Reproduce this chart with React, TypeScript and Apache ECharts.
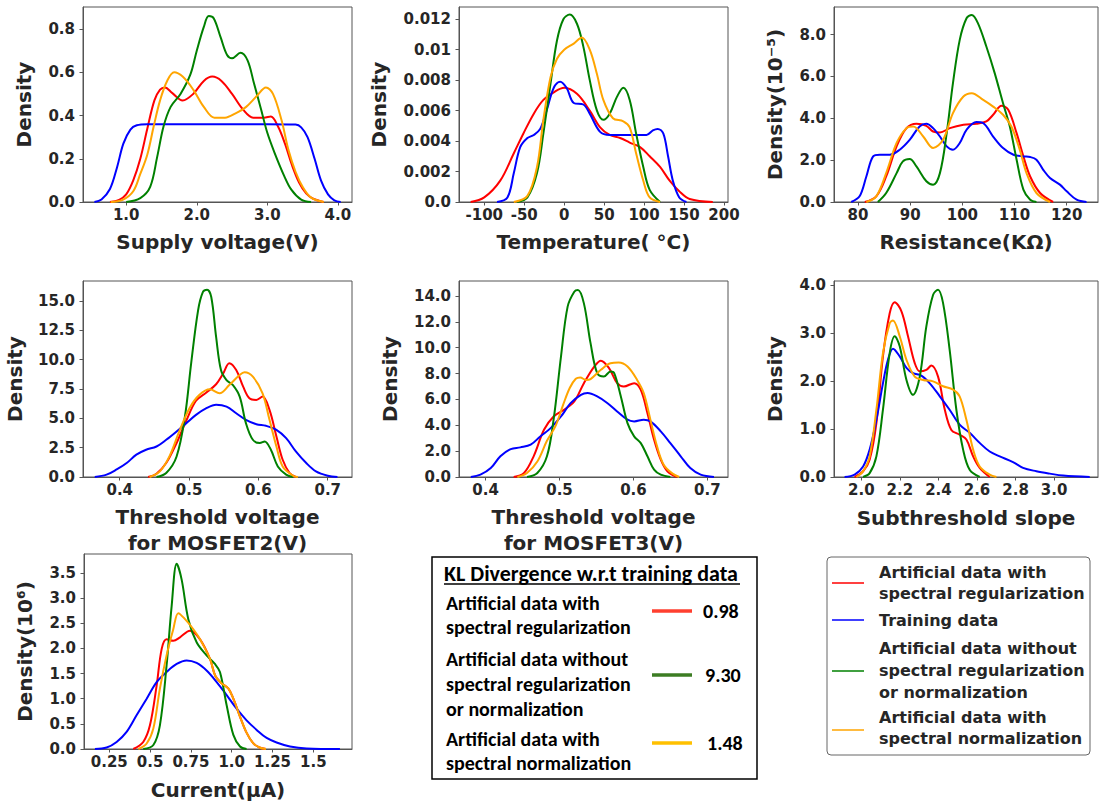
import React, { useEffect, useRef } from "react";
import * as echarts from "echarts";

// ---------- DATA ----------
const seriesNames = [
  "Artificial data with spectral regularization",
  "Training data",
  "Artificial data without spectral regularization or normalization",
  "Artificial data with spectral normalization",
];

// Panel 1: Supply voltage
const supplyRed = [[0.77,0],[0.9,0.01],[1.0,0.035],[1.1,0.1],[1.2,0.2],[1.3,0.34],[1.4,0.47],[1.48,0.52],[1.55,0.53],[1.65,0.505],[1.8,0.47],[1.95,0.5],[2.1,0.56],[2.22,0.58],[2.35,0.56],[2.5,0.5],[2.65,0.43],[2.8,0.39],[2.95,0.39],[3.05,0.395],[3.15,0.35],[3.25,0.27],[3.35,0.17],[3.45,0.09],[3.55,0.04],[3.65,0.015],[3.8,0]];
const supplyBlue = [[0.55,0],[0.65,0.012],[0.77,0.06],[0.87,0.16],[0.96,0.27],[1.06,0.335],[1.15,0.355],[1.3,0.36],[2.0,0.36],[3.0,0.36],[3.4,0.358],[3.48,0.345],[3.57,0.3],[3.67,0.2],[3.76,0.1],[3.86,0.035],[3.95,0.008],[4.04,0]];
const supplyGreen = [[1.0,0],[1.2,0.018],[1.34,0.07],[1.44,0.21],[1.53,0.35],[1.63,0.44],[1.77,0.5],[1.91,0.59],[2.0,0.7],[2.1,0.81],[2.17,0.86],[2.24,0.85],[2.34,0.76],[2.43,0.68],[2.5,0.665],[2.62,0.69],[2.72,0.655],[2.81,0.55],[2.91,0.43],[3.0,0.32],[3.1,0.23],[3.24,0.12],[3.34,0.057],[3.48,0.011],[3.62,0]];
const supplyOrange = [[0.78,0],[0.95,0.01],[1.1,0.05],[1.2,0.13],[1.3,0.22],[1.39,0.35],[1.48,0.47],[1.58,0.56],[1.68,0.6],[1.8,0.58],[1.95,0.52],[2.1,0.44],[2.25,0.39],[2.4,0.39],[2.55,0.41],[2.7,0.44],[2.85,0.49],[2.98,0.53],[3.08,0.5],[3.2,0.38],[3.3,0.24],[3.4,0.14],[3.5,0.07],[3.62,0.02],[3.8,0]];
const supplyXTicks = [1, 2, 3, 4];
const supplyXLabels = ["1.0", "2.0", "3.0", "4.0"];
const supplyYTicks = [0, 0.2, 0.4, 0.6, 0.8];
const supplyYLabels = ["0.0", "0.2", "0.4", "0.6", "0.8"];

// Panel 2: Temperature
const tempRed = [[-117,0],[-100,0.0003],[-80,0.0014],[-63,0.0032],[-51,0.0045],[-38,0.0058],[-26,0.0067],[-13,0.0072],[0,0.0075],[16,0.0071],[32,0.006],[45,0.0049],[57,0.0044],[70,0.0042],[82,0.0039],[95,0.0036],[107,0.003],[120,0.0023],[132,0.0014],[144,0.0007],[157,0.0002],[186,0]];
const tempBlue = [[-84,0],[-71,0.0003],[-63,0.0019],[-55,0.0036],[-46,0.0042],[-38,0.0044],[-30,0.0048],[-22,0.006],[-13,0.0075],[-5,0.0079],[3,0.0075],[12,0.0065],[24,0.0064],[32,0.0058],[45,0.0046],[57,0.0044],[78,0.0044],[103,0.0044],[111,0.0047],[117,0.0048],[124,0.0045],[130,0.003],[136,0.0014],[144,0.0003],[153,0]];
const tempGreen = [[-59,0],[-46,0.0003],[-34,0.0019],[-26,0.0045],[-17,0.0078],[-9,0.0106],[-1,0.012],[7,0.0123],[16,0.0117],[24,0.0102],[32,0.008],[41,0.006],[49,0.0054],[57,0.0058],[66,0.0069],[74,0.0075],[82,0.0067],[90,0.0045],[99,0.0023],[107,0.0008],[120,0]];
const tempOrange = [[-63,0],[-46,0.0004],[-34,0.0023],[-26,0.0054],[-17,0.0082],[-9,0.0094],[0,0.01],[12,0.0104],[22,0.0108],[32,0.01],[41,0.0084],[49,0.0067],[61,0.0055],[74,0.0053],[82,0.0049],[90,0.0032],[99,0.0014],[107,0.0003],[120,0]];
const tempXTicks = [-100, -50, 0, 50, 100, 150, 200];
const tempXLabels = ["-100", "-50", "0", "50", "100", "150", "200"];
const tempYTicks = [0, 0.002, 0.004, 0.006, 0.008, 0.01, 0.012];
const tempYLabels = ["0.0", "0.002", "0.004", "0.006", "0.008", "0.01", "0.012"];

// Panel 3: Resistance
const resRed = [[81.3,0],[83.5,0.27],[85.4,1.22],[87.4,2.66],[89.3,3.53],[91.2,3.74],[93.1,3.64],[94.4,3.37],[95.7,3.32],[97.6,3.53],[100.2,3.69],[102.7,3.74],[104.6,3.85],[105.9,4.17],[107.5,4.6],[108.8,4.41],[110.4,3.29],[111.7,2.18],[113,1.22],[114.9,0.43],[117.4,0]];
const resBlue = [[78.7,0],[80.3,0.27],[81.6,1.22],[82.9,2.18],[84.2,2.26],[86.1,2.26],[88,2.5],[89.9,2.97],[91.8,3.61],[93.1,3.74],[94.4,3.53],[95.7,3.13],[97,2.66],[98.2,2.5],[99.5,2.82],[100.8,3.45],[102.7,3.82],[104,3.77],[105.9,3.13],[107.8,2.58],[109.8,2.26],[111.7,2.18],[113,2.15],[114.2,2.02],[115.5,1.54],[116.8,1.15],[118.7,0.83],[120,0.51],[121.9,0.11],[123.8,0]];
const resGreen = [[83.8,0],[85.4,0.43],[87.4,1.38],[88.6,1.94],[89.9,2.05],[91.2,1.7],[93.1,0.99],[94.4,0.83],[95.7,1.38],[97,3.29],[98.2,5.68],[99.5,7.75],[100.8,8.78],[101.8,8.94],[103,8.54],[104.6,7.43],[106.2,6.16],[107.8,4.72],[109.1,3.61],[110.4,2.02],[111.7,0.59],[113,0.11],[114.2,0]];
const resOrange = [[81.6,0],[83.5,0.27],[85.4,1.38],[87.4,2.82],[89.3,3.53],[90.6,3.61],[92.5,3.13],[94.4,2.58],[96.3,2.97],[98.2,4.25],[100.2,5.04],[101.8,5.2],[104,4.88],[105.9,4.56],[107.8,4.17],[109.4,3.61],[111,2.5],[112.3,1.38],[114.2,0.43],[116.8,0]];
const resXTicks = [80, 90, 100, 110, 120];
const resXLabels = ["80", "90", "100", "110", "120"];
const resYTicks = [0, 2, 4, 6, 8];
const resYLabels = ["0.0", "2.0", "4.0", "6.0", "8.0"];

// Panel 4: Threshold voltage MOSFET2
const vt2Red = [[0.441,0],[0.453,0.28],[0.467,1.19],[0.482,2.9],[0.496,4.8],[0.51,6.5],[0.525,7.2],[0.539,7.9],[0.549,8.8],[0.558,9.7],[0.568,9.11],[0.578,7.7],[0.587,6.71],[0.597,6.57],[0.606,6.85],[0.616,5.72],[0.626,3.45],[0.635,1.47],[0.645,0.34],[0.654,0]];
const vt2Blue = [[0.364,0],[0.381,0.2],[0.395,0.62],[0.41,1.19],[0.424,1.9],[0.438,2.32],[0.453,2.6],[0.467,3.17],[0.482,3.88],[0.496,4.59],[0.51,5.29],[0.525,5.86],[0.539,6.15],[0.554,6.0],[0.568,5.43],[0.582,4.87],[0.597,4.5],[0.611,4.36],[0.626,4.02],[0.64,3.31],[0.654,2.18],[0.669,1.19],[0.683,0.48],[0.7,0.11],[0.714,0]];
const vt2Green = [[0.453,0],[0.467,0.34],[0.482,1.75],[0.494,5.15],[0.503,9.68],[0.513,14.2],[0.52,15.77],[0.526,15.96],[0.532,15.34],[0.539,11.94],[0.546,9.11],[0.554,8.26],[0.563,7.84],[0.573,6.85],[0.582,4.59],[0.592,3.17],[0.602,2.89],[0.609,3.03],[0.618,2.32],[0.628,0.9],[0.64,0.2],[0.65,0]];
const vt2Orange = [[0.443,0],[0.458,0.48],[0.472,1.8],[0.486,3.9],[0.501,5.9],[0.515,7.0],[0.53,7.47],[0.544,7.13],[0.558,7.84],[0.573,8.69],[0.58,8.92],[0.592,8.55],[0.606,7.13],[0.616,4.87],[0.626,2.6],[0.635,0.9],[0.65,0.11],[0.657,0]];
const vt2XTicks = [0.4, 0.5, 0.6, 0.7];
const vt2XLabels = ["0.4", "0.5", "0.6", "0.7"];
const vt2YTicks = [0, 2.5, 5, 7.5, 10, 12.5, 15];
const vt2YLabels = ["0.0", "2.5", "5.0", "7.5", "10.0", "12.5", "15.0"];

// Panel 5: Threshold voltage MOSFET3
const vt3Red = [[0.438,0],[0.452,0.31],[0.465,1.6],[0.479,3.65],[0.492,4.68],[0.506,5.2],[0.52,5.84],[0.533,7.26],[0.547,8.54],[0.556,9.0],[0.567,8.42],[0.578,7.26],[0.587,7.0],[0.601,7.26],[0.61,6.74],[0.619,4.94],[0.628,2.88],[0.637,1.34],[0.646,0.44],[0.659,0]];
const vt3Blue = [[0.38,0],[0.393,0.18],[0.407,0.69],[0.42,1.6],[0.434,2.16],[0.447,2.29],[0.461,2.5],[0.474,3.14],[0.488,3.78],[0.502,4.68],[0.515,5.71],[0.529,6.36],[0.538,6.49],[0.551,6.23],[0.565,5.71],[0.578,5.07],[0.592,4.43],[0.601,4.3],[0.614,4.43],[0.623,4.3],[0.637,3.53],[0.65,2.62],[0.664,1.6],[0.677,0.69],[0.691,0.18],[0.709,0]];
const vt3Green = [[0.456,0],[0.47,0.31],[0.483,1.6],[0.492,4.43],[0.502,9.32],[0.511,13.18],[0.52,14.33],[0.525,14.46],[0.533,13.43],[0.542,10.35],[0.551,8.03],[0.56,7.77],[0.569,8.16],[0.574,8.03],[0.583,6.23],[0.592,4.17],[0.601,3.14],[0.61,2.62],[0.619,1.6],[0.628,0.57],[0.637,0.18],[0.65,0]];
const vt3Orange = [[0.443,0],[0.456,0.31],[0.47,1.2],[0.483,2.8],[0.495,4.0],[0.505,5.6],[0.514,6.9],[0.522,7.6],[0.528,7.7],[0.536,7.5],[0.542,7.57],[0.556,8.29],[0.569,8.8],[0.58,8.85],[0.592,8.54],[0.605,7.51],[0.614,6.49],[0.623,4.43],[0.632,2.37],[0.641,0.95],[0.653,0.26],[0.662,0]];
const vt3XTicks = [0.4, 0.5, 0.6, 0.7];
const vt3XLabels = ["0.4", "0.5", "0.6", "0.7"];
const vt3YTicks = [0, 2, 4, 6, 8, 10, 12, 14];
const vt3YLabels = ["0.0", "2.0", "4.0", "6.0", "8.0", "10.0", "12.0", "14.0"];

// Panel 6: Subthreshold slope
const ssRed = [[1.965,0],[2.009,0.12],[2.043,0.36],[2.078,1.12],[2.112,2.51],[2.147,3.41],[2.173,3.64],[2.208,3.45],[2.242,2.93],[2.277,2.37],[2.303,2.2],[2.337,2.23],[2.363,2.32],[2.398,2.09],[2.433,1.4],[2.467,0.98],[2.51,0.88],[2.545,0.78],[2.58,0.43],[2.614,0.19],[2.666,0]];
const ssBlue = [[1.913,0],[1.965,0.05],[2.009,0.22],[2.043,0.57],[2.078,1.19],[2.112,1.95],[2.138,2.44],[2.164,2.67],[2.199,2.51],[2.234,2.27],[2.268,2.16],[2.311,2.11],[2.355,1.95],[2.407,1.68],[2.458,1.4],[2.51,1.09],[2.562,0.92],[2.614,0.71],[2.666,0.53],[2.718,0.43],[2.787,0.31],[2.839,0.19],[2.908,0.12],[2.978,0.07],[3.047,0.03],[3.185,0]];
const ssGreen = [[2.009,0],[2.043,0.08],[2.078,0.43],[2.112,1.4],[2.147,2.58],[2.173,2.93],[2.199,2.72],[2.234,2.02],[2.268,1.71],[2.303,2.09],[2.337,3.13],[2.372,3.79],[2.398,3.9],[2.424,3.62],[2.458,2.65],[2.493,1.4],[2.528,0.57],[2.562,0.15],[2.614,0]];
const ssOrange = [[1.974,0],[2.009,0.12],[2.043,0.43],[2.078,1.4],[2.112,2.58],[2.147,3.2],[2.164,3.26],[2.199,2.93],[2.234,2.44],[2.277,2.09],[2.32,2.02],[2.372,1.99],[2.424,1.89],[2.476,1.82],[2.51,1.68],[2.545,1.19],[2.58,0.57],[2.614,0.22],[2.666,0.05],[2.701,0]];
const ssXTicks = [2.0, 2.2, 2.4, 2.6, 2.8, 3.0];
const ssXLabels = ["2.0", "2.2", "2.4", "2.6", "2.8", "3.0"];
const ssYTicks = [0, 1, 2, 3, 4];
const ssYLabels = ["0.0", "1.0", "2.0", "3.0", "4.0"];

// Panel 7: Current
const curRed = [[0.397,0],[0.458,0.14],[0.499,0.47],[0.54,1.26],[0.571,1.99],[0.601,2.18],[0.642,2.15],[0.683,2.22],[0.744,2.35],[0.806,2.18],[0.867,1.79],[0.9,1.45],[0.94,1.3],[0.98,1.2],[1.01,1.0],[1.05,0.65],[1.09,0.33],[1.13,0.12],[1.17,0.03],[1.21,0]];
const curBlue = [[0.162,0],[0.234,0.03],[0.295,0.14],[0.356,0.34],[0.417,0.67],[0.479,1.0],[0.54,1.33],[0.601,1.53],[0.663,1.69],[0.724,1.76],[0.785,1.71],[0.846,1.56],[0.908,1.33],[0.969,1.07],[1.03,0.8],[1.091,0.57],[1.153,0.38],[1.214,0.22],[1.275,0.13],[1.357,0.05],[1.459,0.01],[1.663,0]];
const curGreen = [[0.458,0],[0.52,0.08],[0.56,0.47],[0.601,1.66],[0.632,2.84],[0.663,3.68],[0.693,3.37],[0.734,2.58],[0.785,2.12],[0.846,1.86],[0.897,1.69],[0.928,1.53],[0.969,0.87],[1.01,0.28],[1.051,0.05],[1.091,0]];
const curOrange = [[0.428,0],[0.479,0.11],[0.52,0.41],[0.56,1.2],[0.601,1.86],[0.642,2.38],[0.673,2.7],[0.714,2.58],[0.765,2.38],[0.806,2.18],[0.867,1.79],[0.9,1.45],[0.94,1.3],[0.98,1.2],[1.01,1.0],[1.05,0.65],[1.09,0.33],[1.13,0.12],[1.17,0.03],[1.21,0]];
const curXTicks = [0.25, 0.5, 0.75, 1.0, 1.25, 1.5];
const curXLabels = ["0.25", "0.5", "0.75", "1.0", "1.25", "1.5"];
const curYTicks = [0, 0.5, 1, 1.5, 2, 2.5, 3, 3.5];
const curYLabels = ["0.0", "0.5", "1.0", "1.5", "2.0", "2.5", "3.0", "3.5"];

// KL divergence table
const klLabels = [
  ["Artificial data with", "spectral regularization"],
  ["Artificial data without", "spectral regularization", "or normalization"],
  ["Artificial data with", "spectral normalization"],
];
const klValues = ["0.98", "9.30", "1.48"];

// ---------- LAYOUT / STYLE ----------
const COLORS = ["#ff0000", "#0000ff", "#008000", "#ffa500"];
const KL_COLORS = ["#ff3f2f", "#3c7d23", "#ffc000"];
const FONT = "DejaVu Sans";
const TXT = "#262626";
const SPINE = "#555";

const panels = [
  { grid: { left: 83, top: 7, width: 269, height: 195 }, x: [0.388, 4.2], y: [0, 0.902], xT: supplyXTicks, xL: supplyXLabels, yT: supplyYTicks, yL: supplyYLabels, xName: "Supply voltage(V)", yName: "Density", xGap: 27, yGap: 46, s: [supplyRed, supplyBlue, supplyGreen, supplyOrange] },
  { grid: { left: 459, top: 7, width: 269, height: 195 }, x: [-131.6, 205], y: [0, 0.0128], xT: tempXTicks, xL: tempXLabels, yT: tempYTicks, yL: tempYLabels, xName: "Temperature( °C)", yName: "Density", xGap: 27, yGap: 67, s: [tempRed, tempBlue, tempGreen, tempOrange] },
  { grid: { left: 834, top: 7, width: 264, height: 195 }, x: [75.4, 126], y: [0, 9.32], xT: resXTicks, xL: resXLabels, yT: resYTicks, yL: resYLabels, xName: "Resistance(KΩ)", yName: "Density(10⁻⁵)", xGap: 27, yGap: 46, s: [resRed, resBlue, resGreen, resOrange] },
  { grid: { left: 83, top: 281, width: 269, height: 196 }, x: [0.347, 0.735], y: [0, 16.7], xT: vt2XTicks, xL: vt2XLabels, yT: vt2YTicks, yL: vt2YLabels, xName: "Threshold voltage\nfor MOSFET2(V)", yName: "Density", xGap: 27, yGap: 55, s: [vt2Red, vt2Blue, vt2Green, vt2Orange] },
  { grid: { left: 459, top: 281, width: 269, height: 196 }, x: [0.364, 0.728], y: [0, 15.16], xT: vt3XTicks, xL: vt3XLabels, yT: vt3YTicks, yL: vt3YLabels, xName: "Threshold voltage\nfor MOSFET3(V)", yName: "Density", xGap: 27, yGap: 56, s: [vt3Red, vt3Blue, vt3Green, vt3Orange] },
  { grid: { left: 834, top: 281, width: 264, height: 196 }, x: [1.858, 3.228], y: [0, 4.08], xT: ssXTicks, xL: ssXLabels, yT: ssYTicks, yL: ssYLabels, xName: "Subthreshold slope", yName: "Density", xGap: 28, yGap: 46, s: [ssRed, ssBlue, ssGreen, ssOrange] },
  { grid: { left: 84, top: 554, width: 268, height: 197 }, x: [0.095, 1.737], y: [0, 3.875], xT: curXTicks, xL: curXLabels, yT: curYTicks, yL: curYLabels, xName: "Current(μA)", yName: "Density(10⁶)", xGap: 28, yGap: 46, s: [curRed, curBlue, curGreen, curOrange] },
];

function labelFor(ticks: number[], labels: string[]) {
  return (v: number) => {
    const i = ticks.findIndex((t) => Math.abs(t - v) < 1e-9);
    return i >= 0 ? labels[i] : "";
  };
}

function buildOption() {
  const grid: any[] = [];
  const xAxis: any[] = [];
  const yAxis: any[] = [];
  const series: any[] = [];
  const axisCommon = {
    axisLine: { show: true, onZero: false, lineStyle: { color: SPINE, width: 1 } },
    axisTick: { show: true, inside: false, length: 3.5, lineStyle: { color: SPINE } },
    splitLine: { show: false },
    nameTextStyle: { fontFamily: FONT, fontWeight: "bold", fontSize: 20, color: TXT, lineHeight: 26 },
  };
  panels.forEach((p, i) => {
    grid.push({ ...p.grid, show: true, borderColor: SPINE, borderWidth: 1, backgroundColor: "transparent", containLabel: false });
    xAxis.push({
      ...axisCommon,
      type: "value", gridIndex: i, min: p.x[0], max: p.x[1],
      name: p.xName, nameLocation: "middle", nameGap: p.xGap,
      axisTick: { ...axisCommon.axisTick, customValues: p.xT },
      axisLabel: { customValues: p.xT, formatter: labelFor(p.xT, p.xL), fontFamily: FONT, fontWeight: "bold", fontSize: 15, color: TXT, margin: 5, hideOverlap: false },
    });
    yAxis.push({
      ...axisCommon,
      type: "value", gridIndex: i, min: p.y[0], max: p.y[1],
      name: p.yName, nameLocation: "middle", nameGap: p.yGap, nameRotate: 90,
      axisTick: { ...axisCommon.axisTick, customValues: p.yT },
      axisLabel: { customValues: p.yT, formatter: labelFor(p.yT, p.yL), fontFamily: FONT, fontWeight: "bold", fontSize: 15, color: TXT, margin: 8 },
    });
    p.s.forEach((d, k) => {
      series.push({
        type: "line", name: seriesNames[k], xAxisIndex: i, yAxisIndex: i, data: d,
        showSymbol: false, smooth: 0.35,
        lineStyle: { color: COLORS[k], width: 2 }, itemStyle: { color: COLORS[k] },
        silent: true, z: 2 + k,
      });
    });
  });

  const graphic: any[] = [];
  // KL box
  const klFont = { fontFamily: "Carlito, Lato", fontWeight: "bold", fontSize: 20, fill: "#000" };
  graphic.push({ type: "rect", shape: { x: 432, y: 557, width: 325, height: 222 }, style: { fill: "#fff", stroke: "#000", lineWidth: 1.5 } });
  graphic.push({ type: "text", x: 444, y: 573, style: { ...klFont, fontSize: 22, text: "KL Divergence w.r.t training data", align: "left", verticalAlign: "middle" } });
  graphic.push({ type: "line", shape: { x1: 444, y1: 584, x2: 740, y2: 584 }, style: { stroke: "#000", lineWidth: 1.5 } });
  const klRowY = [[603, 627], [659, 684, 709], [739, 763]];
  const klLineY = [611, 675, 743];
  const klValX = [703, 705, 707];
  klLabels.forEach((lines, r) => {
    lines.forEach((t, j) => {
      graphic.push({ type: "text", x: 446, y: klRowY[r][j], style: { ...klFont, text: t, align: "left", verticalAlign: "middle" } });
    });
    graphic.push({ type: "line", shape: { x1: 652, y1: klLineY[r], x2: 692, y2: klLineY[r] }, style: { stroke: KL_COLORS[r], lineWidth: 3.5 } });
    graphic.push({ type: "text", x: klValX[r], y: klLineY[r], style: { ...klFont, text: klValues[r], align: "left", verticalAlign: "middle" } });
  });

  // Legend box
  const lgFont = { fontFamily: FONT, fontWeight: "bold", fontSize: 16, fill: TXT };
  graphic.push({ type: "rect", shape: { x: 827, y: 557, width: 263, height: 198, r: 4 }, style: { fill: "#fff", stroke: "#666", lineWidth: 1 } });
  const legendLines = [
    ["Artificial data with", "spectral regularization"],
    ["Training data"],
    ["Artificial data without", "spectral regularization", "or normalization"],
    ["Artificial data with", "spectral normalization"],
  ];
  const lgTextY = [[572, 593], [620], [648, 670, 692], [717, 738]];
  const lgLineY = [583, 620, 671, 730];
  legendLines.forEach((lines, r) => {
    graphic.push({ type: "line", shape: { x1: 832, y1: lgLineY[r], x2: 864, y2: lgLineY[r] }, style: { stroke: COLORS[r], lineWidth: 1.5 } });
    lines.forEach((t, j) => {
      graphic.push({ type: "text", x: 879, y: lgTextY[r][j], style: { ...lgFont, text: t, align: "left", verticalAlign: "middle" } });
    });
  });

  return { animation: false, backgroundColor: "#fff", grid, xAxis, yAxis, series, graphic };
}

export default function App() {
  const ref = useRef<HTMLDivElement>(null);
  useEffect(() => {
    if (!ref.current) return;
    const chart = echarts.init(ref.current, undefined, { renderer: "svg" });
    chart.setOption(buildOption() as any);
    return () => chart.dispose();
  }, []);
  return <div ref={ref} style={{ position: "absolute", left: 0, top: 0, width: 1099, height: 804, background: "#fff" }} />;
}
